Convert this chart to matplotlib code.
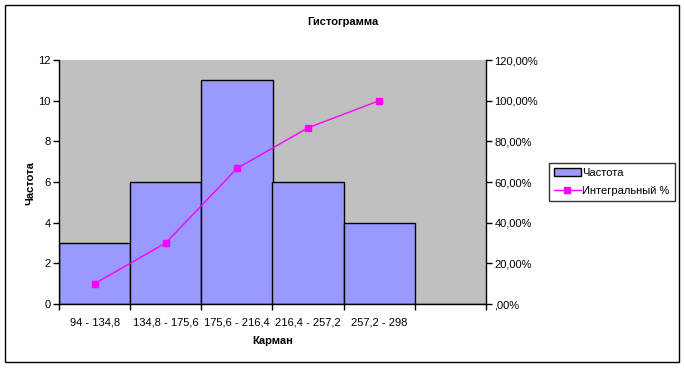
import matplotlib
matplotlib.use("Agg")
import matplotlib.pyplot as plt
from matplotlib.patches import Patch, Rectangle
from matplotlib.lines import Line2D
from matplotlib.ticker import FixedLocator, FuncFormatter

plt.rcParams['font.family'] = ['Liberation Sans', 'DejaVu Sans']

categories = ["94 - 134,8", "134,8 - 175,6", "175,6 - 216,4", "216,4 - 257,2", "257,2 - 298", ""]
frequency = [3, 6, 11, 6, 4, 0]
cumulative = [0.10, 0.30, 0.6667, 0.8667, 1.00]

title = "Гистограмма"
xlabel = "Карман"
ylabel = "Частота"
legend_labels = ["Частота", "Интегральный %"]

FS = 8.0
fig = plt.figure(figsize=(6.84, 3.68), dpi=100)
W, H = 684, 368
ax = fig.add_axes([59 / W, 1 - 304 / H, (486 - 59) / W, (304 - 60) / H])
ax.set_facecolor("#C0C0C0")

x = list(range(len(categories)))
ax.bar(x, frequency, width=1.0, color="#9999FF", edgecolor="black", linewidth=1.0, zorder=2)
ax.set_xlim(-0.5, len(categories) - 0.5)
ax.set_ylim(0, 12)
ax.set_yticks([0, 2, 4, 6, 8, 10, 12])

ax.xaxis.set_major_locator(FixedLocator([i - 0.5 for i in range(len(categories) + 1)]))
ax.xaxis.set_major_formatter(FuncFormatter(lambda v, p: ""))
ax.xaxis.set_minor_locator(FixedLocator(x))
ax.set_xticklabels(categories, minor=True)
ax.tick_params(axis='x', which='minor', length=0, pad=10, labelsize=FS)
ax.tick_params(axis='x', which='major', length=4, width=1, direction='out')
ax.tick_params(axis='y', length=4, width=1, direction='out', labelsize=FS, pad=2)

for s in ["top", "right"]:
    ax.spines[s].set_visible(False)
for s in ["left", "bottom"]:
    ax.spines[s].set_linewidth(1.0)

fig.text((59 + 486) / 2 / W, 1 - 341 / H, xlabel, ha='center', va='center', fontsize=FS, fontweight='bold')
fig.text(30 / W, 1 - 183 / H, ylabel, ha='center', va='center', rotation=90, fontsize=FS, fontweight='bold')

ax2 = ax.twinx()
ax2.plot(x[:len(cumulative)], cumulative, color="#FF00FF", linewidth=1.0,
         marker='s', markersize=4, markerfacecolor="#FF00FF", markeredgecolor="#FF00FF", zorder=3)
ax2.set_ylim(0, 1.2)
ax2.set_yticks([0, 0.2, 0.4, 0.6, 0.8, 1.0, 1.2])

def pct(v, p):
    s = f"{v*100:.2f}".replace('.', ',')
    if s.startswith("0,"):
        s = s[1:]
    return s + "%"

ax2.yaxis.set_major_formatter(FuncFormatter(pct))
ax2.tick_params(axis='y', length=4, width=1, direction='out', labelsize=FS, pad=2)
for s in ["top", "left", "bottom"]:
    ax2.spines[s].set_visible(False)
ax2.spines["right"].set_linewidth(1.0)

fig.text(343 / W, 1 - 22 / H, title, ha='center', va='center', fontsize=FS, fontweight='bold')

handles = [Patch(facecolor="#9999FF", edgecolor="black", linewidth=1.0),
           Line2D([0], [0], color="#FF00FF", linewidth=1.0, marker='s', markersize=4)]
leg = fig.legend(handles, legend_labels, loc='upper left',
                 bbox_to_anchor=(549 / W, 1 - 163 / H), fontsize=FS, frameon=True,
                 fancybox=False, edgecolor='black', handlelength=2.4, handletextpad=0.15,
                 borderpad=0.45, labelspacing=0.75, borderaxespad=0)
leg.get_frame().set_linewidth(1.0)

fig.patches.append(Rectangle((5 / W, 1 - 362 / H), (679 - 5) / W, (362 - 5) / H,
                             transform=fig.transFigure, fill=False, edgecolor='black', linewidth=1.0))

fig.savefig("out.png", dpi=100)
